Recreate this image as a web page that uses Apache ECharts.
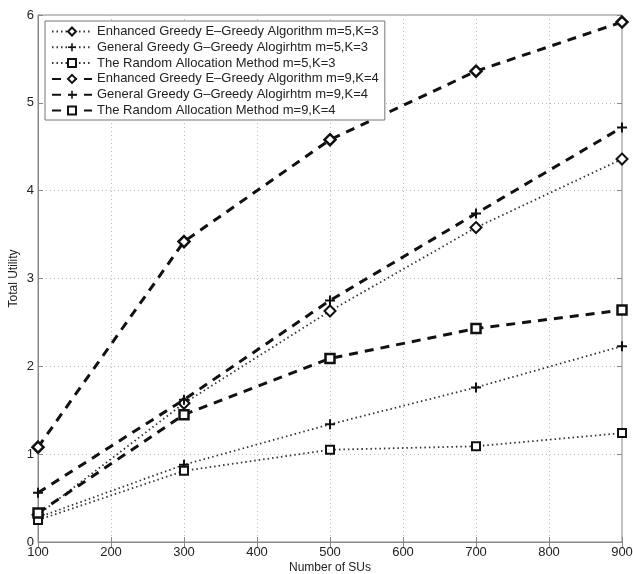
<!DOCTYPE html>
<html><head><meta charset="utf-8">
<script src="https://cdn.jsdelivr.net/npm/echarts@6/dist/echarts.min.js"></script>
<style>html,body{margin:0;padding:0;background:#fff}#c{width:633px;height:574px}</style>
</head><body><div id="c"></div>
<script>
var xValues = [100, 300, 500, 700, 900];
var seriesNames = [
  'Enhanced Greedy E\u2013Greedy Algorithm m=5,K=3',
  'General Greedy G\u2013Greedy Alogirhtm m=5,K=3',
  'The Random Allocation Method m=5,K=3',
  'Enhanced Greedy E\u2013Greedy Algorithm m=9,K=4',
  'General Greedy G\u2013Greedy Alogirhtm m=9,K=4',
  'The Random Allocation Method m=9,K=4'
];
var eGreedyM5 = [0.31, 1.58, 2.63, 3.58, 4.36];
var gGreedyM5 = [0.28, 0.88, 1.34, 1.76, 2.23];
var randomM5  = [0.25, 0.81, 1.05, 1.09, 1.24];
var eGreedyM9 = [1.08, 3.42, 4.58, 5.36, 5.92];
var gGreedyM9 = [0.56, 1.62, 2.75, 3.74, 4.72];
var randomM9  = [0.33, 1.45, 2.09, 2.43, 2.64];
var xTicks = [100, 200, 300, 400, 500, 600, 700, 800, 900];
var yTicks = [0, 1, 2, 3, 4, 5, 6];

var plusPath = 'path://M4,0 L6,0 L6,4 L10,4 L10,6 L6,6 L6,10 L4,10 L4,6 L0,6 L0,4 L4,4 Z';
var FONT = 'Liberation Sans, Arial, sans-serif';
function pairs(arr){ return arr.map(function(v,i){ return [xValues[i], v]; }); }
function mk(name, data, sym, heavy){
  var isPlus = sym === plusPath;
  return {
    name: name, type: 'line', data: pairs(data),
    symbol: sym,
    symbolSize: isPlus ? 10 : (sym === 'diamond' ? 11 : (heavy ? 9 : 8)),
    showSymbol: true,
    lineStyle: heavy ? {color: '#111', width: 3, type: [9, 7]} : {color: '#333', width: 1.8, type: [1.5, 3]},
    itemStyle: isPlus ? {color: '#111', borderWidth: 0} : {color: '#fff', borderColor: '#111', borderWidth: heavy ? 2.5 : 2},
    emphasis: {disabled: true},
    z: heavy ? 3 : 2
  };
}
var chart = echarts.init(document.getElementById('c'), null, {renderer: 'canvas'});
chart.setOption({
  animation: false,
  backgroundColor: '#fff',
  grid: {left: 38, right: 11, top: 15, bottom: 32, show: true, borderColor: '#888', borderWidth: 1,
         containLabel: false, outerBoundsMode: 'none'},
  legend: {
    show: true, orient: 'vertical', left: 45, top: 21,
    backgroundColor: '#fff', borderColor: '#777', borderWidth: 1,
    padding: [4, 6, 3, 6], itemWidth: 40, itemHeight: 10, itemGap: 2.8,
    textStyle: {fontFamily: FONT, fontSize: 13, color: '#222'},
    data: seriesNames
  },
  xAxis: [{
    type: 'value', min: 100, max: 900, interval: 100,
    name: 'Number of SUs', nameLocation: 'middle', nameGap: 20, nameMoveOverlap: false,
    nameTextStyle: {fontFamily: FONT, fontSize: 12, color: '#222'},
    axisLine: {show: true, lineStyle: {color: '#888'}},
    axisTick: {show: true, inside: true, length: 5, lineStyle: {color: '#888'}},
    axisLabel: {fontFamily: FONT, fontSize: 13, color: '#222', margin: 4,
      formatter: function(v){ return xTicks.indexOf(v) >= 0 ? String(v) : ''; }},
    splitLine: {show: true, lineStyle: {color: '#bbb', type: [1, 3], width: 1}}
  }, {
    type: 'value', position: 'top', min: 100, max: 900, interval: 100,
    axisLine: {show: false}, axisTick: {show: true, inside: true, length: 5, lineStyle: {color: '#888'}},
    axisLabel: {show: false}, splitLine: {show: false}
  }],
  yAxis: [{
    type: 'value', min: 0, max: 6, interval: 1,
    name: 'Total Utility', nameLocation: 'middle', nameGap: 18, nameRotate: 90, nameMoveOverlap: false,
    nameTextStyle: {fontFamily: FONT, fontSize: 12, color: '#222'},
    axisLine: {show: true, lineStyle: {color: '#888'}},
    axisTick: {show: true, inside: true, length: 5, lineStyle: {color: '#888'}},
    axisLabel: {fontFamily: FONT, fontSize: 13, color: '#222', margin: 4,
      formatter: function(v){ return yTicks.indexOf(v) >= 0 ? String(v) : ''; }},
    splitLine: {show: true, lineStyle: {color: '#bbb', type: [1, 3], width: 1}}
  }, {
    type: 'value', position: 'right', min: 0, max: 6, interval: 1,
    axisLine: {show: false}, axisTick: {show: true, inside: true, length: 5, lineStyle: {color: '#888'}},
    axisLabel: {show: false}, splitLine: {show: false}
  }],
  series: [
    mk(seriesNames[0], eGreedyM5, 'diamond', false),
    mk(seriesNames[1], gGreedyM5, plusPath, false),
    mk(seriesNames[2], randomM5, 'rect', false),
    mk(seriesNames[3], eGreedyM9, 'diamond', true),
    mk(seriesNames[4], gGreedyM9, plusPath, true),
    mk(seriesNames[5], randomM9, 'rect', true)
  ]
});
</script></body></html>
